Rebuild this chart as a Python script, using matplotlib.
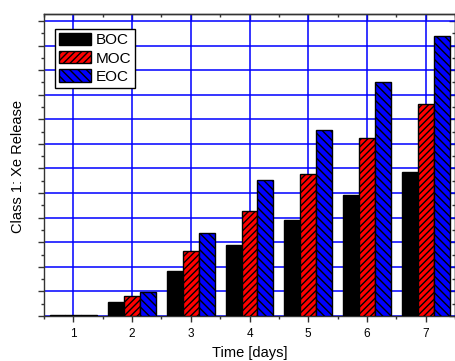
import matplotlib
matplotlib.use("Agg")
import matplotlib.pyplot as plt
import numpy as np
from matplotlib.ticker import MultipleLocator, NullFormatter

plt.rcParams['font.family'] = ['Liberation Sans', 'DejaVu Sans']
plt.rcParams['hatch.linewidth'] = 1.0

days = [1, 2, 3, 4, 5, 6, 7]
boc = [0.02, 0.58, 1.82, 2.90, 3.91, 4.91, 5.84]
moc = [0.03, 0.80, 2.64, 4.27, 5.77, 7.22, 8.62]
eoc = [0.04, 0.96, 3.37, 5.53, 7.56, 9.51, 11.38]
series_names = ["BOC", "MOC", "EOC"]

fig = plt.figure(figsize=(4.56, 3.61), dpi=100)
ax = fig.add_axes([0.0965, 0.1247, 0.9015, 0.8363])

x = np.array(days, dtype=float)
w = 0.27
ax.bar(x - w, boc, width=w, color="black", edgecolor="black", linewidth=1.0,
       label=series_names[0], zorder=3)
ax.bar(x, moc, width=w, color="#ff0000", edgecolor="black", linewidth=1.0,
       hatch="/////", label=series_names[1], zorder=3)
ax.bar(x + w, eoc, width=w, color="#0000ff", edgecolor="black", linewidth=1.0,
       hatch="\\\\\\\\", label=series_names[2], zorder=3)

ax.set_xlim(0.5, 7.5)
ax.set_ylim(0, 12.28)
ax.set_xticks(days)
ax.set_xticklabels([str(d) for d in days])
ax.xaxis.set_minor_locator(MultipleLocator(0.5))
ax.yaxis.set_major_locator(MultipleLocator(1))
ax.yaxis.set_minor_locator(MultipleLocator(0.5))
ax.yaxis.set_major_formatter(NullFormatter())

ax.grid(True, which="major", color="#0000ff", linewidth=1.3, alpha=0.85, zorder=0)
ax.set_axisbelow(True)

ax.tick_params(axis="both", which="major", labelsize=8.5, length=4, width=1,
               color="#333333")
ax.tick_params(axis="both", which="minor", length=2.5, width=1, color="#333333")
ax.tick_params(axis="x", which="both", direction="out", top=False)
ax.tick_params(axis="y", which="both", direction="out", right=False)
ax.tick_params(axis="x", which="major", pad=5)

# inward ticks on the top and right frame edges
ax_top = ax.secondary_xaxis("top")
ax_top.set_xticks(days)
ax_top.xaxis.set_minor_locator(MultipleLocator(0.5))
ax_top.tick_params(which="both", direction="in", labeltop=False, color="#333333", width=1)
ax_top.tick_params(which="major", length=4)
ax_top.tick_params(which="minor", length=2.5)
ax_top.xaxis.set_major_formatter(NullFormatter())
ax_right = ax.secondary_yaxis("right")
ax_right.yaxis.set_major_locator(MultipleLocator(1))
ax_right.yaxis.set_minor_locator(MultipleLocator(0.5))
ax_right.tick_params(which="both", direction="in", labelright=False, color="#333333", width=1)
ax_right.tick_params(which="major", length=4)
ax_right.tick_params(which="minor", length=2.5)
ax_right.yaxis.set_major_formatter(NullFormatter())

for sp in list(ax.spines.values()) + [ax_top.spines["top"], ax_right.spines["right"]]:
    sp.set_color("#333333")
    sp.set_linewidth(1.0)

ax.set_xlabel("Time [days]", fontsize=10.5)
ax.xaxis.set_label_coords(0.5, -0.100)
ax.set_ylabel("Class 1: Xe Release", fontsize=10.5)
ax.yaxis.set_label_coords(-0.046, 0.495)

leg = ax.legend(loc="upper left", bbox_to_anchor=(0.027, 0.950), fontsize=11,
                frameon=True, fancybox=False, framealpha=1, edgecolor="black",
                handlelength=2.1, handleheight=0.85, handletextpad=0.3,
                labelspacing=0.25, borderpad=0.25, borderaxespad=0)
leg.get_frame().set_linewidth(1.0)
leg.set_zorder(5)

fig.savefig("out.png", dpi=100)
